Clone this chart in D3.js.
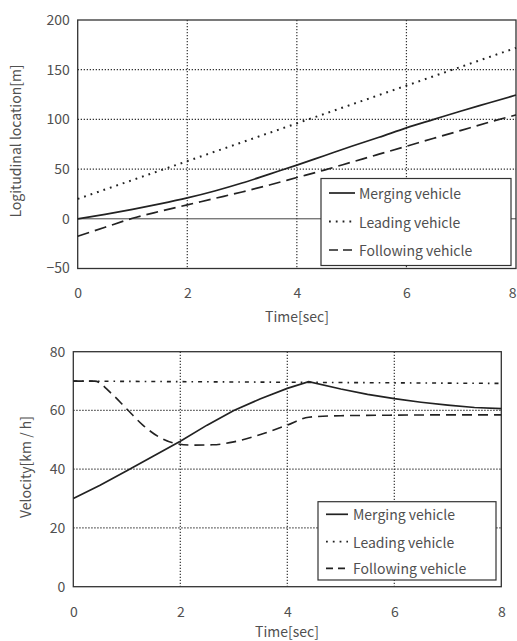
<!DOCTYPE html>
<meta charset="utf-8">
<script src="https://d3js.org/d3.v7.min.js"></script>
<style>
    body { margin: 0; background: white; }
    text { font-family: "Noto Sans CJK JP", "Noto Sans", sans-serif; fill: #505050; }
</style>
<div id="chart"></div>
<script>
    // time axis (sec)
    var timeTicks = [0, 2, 4, 6, 8];

    // top panel: longitudinal location [m]
    var posTime = [0, 0.5, 1, 1.5, 2, 2.5, 3, 3.5, 4, 4.5, 5, 5.5, 6, 6.5, 7, 7.5, 8];
    var posMerging = [0, 4.5, 9.5, 15, 21, 28, 36, 45, 54, 63.5, 73, 82, 91.5, 100, 108.5, 116.5, 124.5];
    var posLeadingTime = [0, 8];
    var posLeading = [20, 172];
    var posFollowing = [-17.5, -8.5, 0.5, 7.5, 14, 20.5, 27, 34, 41.5, 49, 57, 65, 73, 81, 89, 97, 104.5];
    var posTicks = [-50, 0, 50, 100, 150, 200];

    // bottom panel: velocity [km/h]
    var velMergingTime = [0, 0.5, 1, 1.5, 2, 2.5, 3, 3.5, 4, 4.4, 5, 5.5, 6, 6.5, 7, 7.5, 8];
    var velMerging = [30, 34.5, 39.5, 44.5, 49.5, 55, 60, 64, 67.5, 69.8, 67.3, 65.5, 64, 62.8, 61.8, 61, 60.6];
    var velLeadingTime = [0, 4, 8];
    var velLeading = [70, 69.6, 69.2];
    var velFollowingTime = [0, 0.4, 0.7, 1, 1.3, 1.6, 1.9, 2.2, 2.6, 3, 3.5, 4, 4.4, 5, 6, 7, 8];
    var velFollowing = [70, 70, 66, 60.5, 55, 51, 48.8, 48.2, 48.3, 49.3, 51.8, 55, 57.7, 58.2, 58.4, 58.5, 58.5];
    var velTicks = [0, 20, 40, 60, 80];

    var legendNames = ["Merging vehicle", "Leading vehicle", "Following vehicle"];

    var svg = d3.select("#chart").append("svg")
        .attr("width", 517)
        .attr("height", 641);

    function zip(xs, ys) {
        return xs.map(function(t, i) { return [t, ys[i]]; });
    }

    function drawPanel(p) {
        var x = d3.scaleLinear().domain([0, 8]).range([p.left, p.right]);
        var y = d3.scaleLinear().domain(p.yDomain).range([p.bottom, p.top]);
        var g = svg.append("g");

        // dotted grid
        g.selectAll(".vgrid").data([2, 4, 6]).enter().append("line")
            .attr("x1", function(d) { return x(d); })
            .attr("x2", function(d) { return x(d); })
            .attr("y1", p.top).attr("y2", p.bottom)
            .style("stroke", "#333").style("stroke-width", 1.2)
            .style("stroke-dasharray", "1.3,1.7");
        g.selectAll(".hgrid").data(p.grid).enter().append("line")
            .attr("x1", p.left).attr("x2", p.right)
            .attr("y1", function(d) { return y(d); })
            .attr("y2", function(d) { return y(d); })
            .style("stroke", "#333").style("stroke-width", 1.2)
            .style("stroke-dasharray", "1.3,1.7");

        if (p.zeroLine) {
            g.append("line")
                .attr("x1", p.left).attr("x2", p.right)
                .attr("y1", y(0)).attr("y2", y(0))
                .style("stroke", "#444").style("stroke-width", 1);
        }

        // frame
        g.append("rect")
            .attr("x", p.left).attr("y", p.top)
            .attr("width", p.right - p.left).attr("height", p.bottom - p.top)
            .style("fill", "none").style("stroke", "#333").style("stroke-width", 1.3);

        // axes (labels only)
        var xAxis = g.append("g")
            .attr("transform", "translate(0," + p.bottom + ")")
            .call(d3.axisBottom(x).tickValues(timeTicks).tickSize(0).tickPadding(p.xPad));
        var yAxis = g.append("g")
            .attr("transform", "translate(" + p.left + ",0)")
            .call(d3.axisLeft(y).tickValues(p.ticks).tickSize(0).tickPadding(8)
                .tickFormat(function(d) { return d < 0 ? "\u2212" + (-d) : d; }));
        [xAxis, yAxis].forEach(function(a) {
            a.select(".domain").remove();
            a.selectAll("text").style("font-size", "14px").style("fill", "#505050")
                .style("font-family", "\"Noto Sans CJK JP\", sans-serif");
        });
        // keep the last time label inside the page
        if (p.lastEnd) {
            xAxis.selectAll("text").filter(function(d) { return d === 8; })
                .attr("text-anchor", "end");
        }

        g.append("text")
            .attr("x", p.xTitle[0]).attr("y", p.xTitle[1])
            .attr("text-anchor", "middle")
            .style("font-size", "14px")
            .text("Time[sec]");
        g.append("text")
            .attr("transform", "translate(" + p.yTitle[0] + "," + p.yTitle[1] + ") rotate(-90)")
            .attr("text-anchor", "middle")
            .attr("dominant-baseline", "central")
            .style("font-size", "14px")
            .text(p.yLabel);

        p.series.forEach(function(s) {
            var line = d3.line()
                .x(function(d) { return x(d[0]); })
                .y(function(d) { return y(d[1]); })
                .curve(s.curve || d3.curveMonotoneX);
            g.append("path")
                .datum(s.data)
                .attr("d", line)
                .style("fill", "none")
                .style("stroke", "#222")
                .style("stroke-width", s.width)
                .style("stroke-dasharray", s.dash);
        });

        // legend
        var lg = p.legend;
        g.append("rect")
            .attr("x", lg.x).attr("y", lg.y)
            .attr("width", lg.w).attr("height", lg.h)
            .style("fill", "white").style("stroke", "#333").style("stroke-width", 1.2);
        legendNames.forEach(function(name, i) {
            var cy = lg.y + lg.rows[i];
            g.append("line")
                .attr("x1", lg.x + 8).attr("x2", lg.x + 8 + lg.sample)
                .attr("y1", cy).attr("y2", cy)
                .style("stroke", "#222")
                .style("stroke-width", i === 1 ? 1.8 : 1.7)
                .style("stroke-dasharray", p.legendDash[i]);
            g.append("text")
                .attr("x", lg.x + lg.textX).attr("y", cy)
                .attr("dominant-baseline", "central")
                .style("font-size", "14px")
                .text(name);
        });
    }

    drawPanel({
        left: 77.7, right: 516, top: 20, bottom: 268.5,
        yDomain: [-50, 200], ticks: posTicks, grid: [50, 100, 150],
        zeroLine: true, xPad: 20, lastEnd: true,
        xTitle: [297, 322], yTitle: [15, 141],
        yLabel: "Logitudinal location[m]",
        series: [
            { data: zip(posTime, posMerging), width: 1.7, dash: null },
            { data: zip(posLeadingTime, posLeading), width: 2, dash: "1.8,5", curve: d3.curveLinear },
            { data: zip(posTime, posFollowing), width: 1.7, dash: "12,6" }
        ],
        legendDash: [null, "1.8,5", "9,5"],
        legend: { x: 321, y: 178.5, w: 190, h: 87, rows: [14.5, 43, 71.5], sample: 26, textX: 38 }
    });

    drawPanel({
        left: 73.3, right: 501.3, top: 351.7, bottom: 586.7,
        yDomain: [0, 80], ticks: velTicks, grid: [20, 40, 60],
        zeroLine: false, xPad: 20, lastEnd: false,
        xTitle: [287, 637], yTitle: [25, 467],
        yLabel: "Velocity[km / h]",
        series: [
            { data: zip(velMergingTime, velMerging), width: 1.7, dash: null, curve: d3.curveLinear },
            { data: zip(velLeadingTime, velLeading), width: 1.6, dash: "4,5,1.6,5", curve: d3.curveLinear },
            { data: zip(velFollowingTime, velFollowing), width: 1.6, dash: "10,6" }
        ],
        legendDash: [null, "1.8,5", "7,5"],
        legend: { x: 318, y: 501.7, w: 178, h: 78.3, rows: [12.6, 40, 66.6], sample: 22, textX: 35 }
    });
</script>
